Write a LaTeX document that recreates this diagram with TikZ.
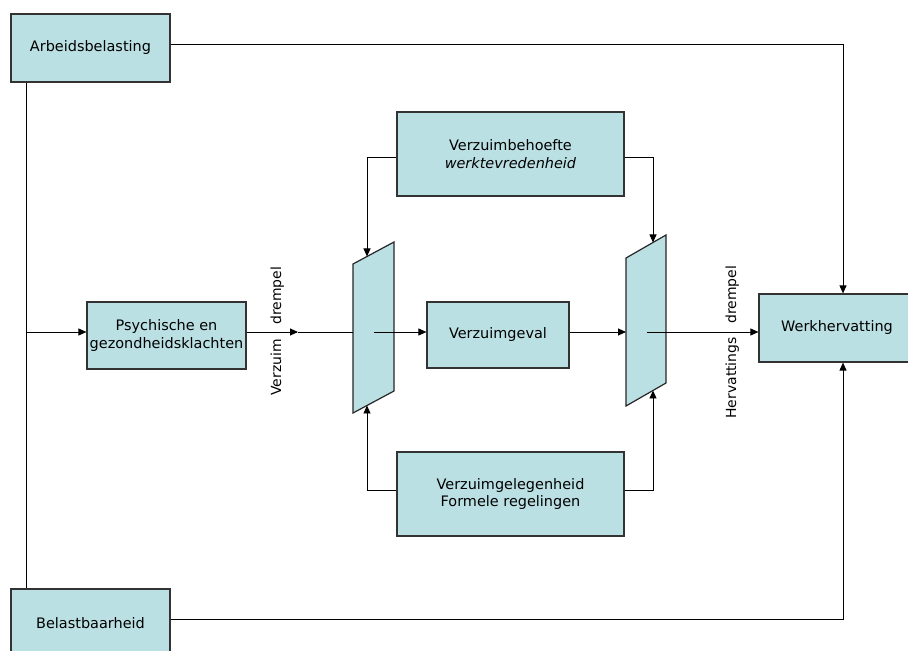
\documentclass[tikz,border=0pt]{standalone}
\usepackage{fontspec}
\setmainfont{DejaVu Sans}
\usetikzlibrary{arrows.meta,calc}
\definecolor{boxblue}{HTML}{BBE0E3}
\tikzset{
  blok/.style={draw=black!80, line width=1.2bp, fill=boxblue, inner sep=0pt,
    align=center, font=\fontsize{14.5}{17.5}\selectfont},
  pijl/.style={-{Triangle[length=8bp,width=7bp]}, line width=0.9bp},
  lijn/.style={line width=0.9bp},
  poort/.style={draw=black!85, line width=1.2bp, fill=boxblue},
  drempel/.style={rotate=90, inner sep=0pt, font=\fontsize{14}{17}\selectfont}
}

\begin{document}
\begin{tikzpicture}[x=1bp, y=-1bp]
		%%%%% START %%%%%
		\useasboundingbox (0,0) rectangle (908,651);
		\clip (0,0) rectangle (908,651);
		
		\node[blok, minimum width=159bp, minimum height=68bp] (arb) at (90.5, 48) {Arbeidsbelasting};
		\node[blok, minimum width=159bp, minimum height=68bp] (bel) at (90.5, 623) {Belastbaarheid};
		\node[blok, minimum width=159bp, minimum height=67bp] (psy) at (166.5, 335.5) {Psychische en\\gezondheidsklachten};
		\node[blok, minimum width=142bp, minimum height=66bp] (gev) at (498, 335) {Verzuimgeval};
		\node[blok, minimum width=156bp, minimum height=68bp] (werk) at (837, 328) {Werkhervatting};
		\node[blok, minimum width=227bp, minimum height=84bp] (beh) at (510.5, 154) {Verzuimbehoefte\\\textit{werktevredenheid}};
		\node[blok, minimum width=227bp, minimum height=84bp] (gel) at (510.5, 494) {Verzuimgelegenheid\\Formele regelingen};
		
		% drempels
		\coordinate (lp-nw) at (353, 264);
		\coordinate (lp-ne) at (394, 242);
		\coordinate (lp-se) at (394, 391);
		\coordinate (lp-sw) at (353, 413);
		\draw[poort] (lp-nw) -- (lp-ne) -- (lp-se) -- (lp-sw) -- cycle;
		
		\coordinate (rp-nw) at (626, 258);
		\coordinate (rp-ne) at (666, 235);
		\coordinate (rp-se) at (666, 383);
		\coordinate (rp-sw) at (626, 406);
		\draw[poort] (rp-nw) -- (rp-ne) -- (rp-se) -- (rp-sw) -- cycle;
		
		\coordinate (lp-top) at ($(lp-nw)!14/41!(lp-ne)$);
		\coordinate (lp-bot) at ($(lp-sw)!14/41!(lp-se)$);
		\coordinate (rp-top) at ($(rp-nw)!27/40!(rp-ne)$);
		\coordinate (rp-bot) at ($(rp-sw)!27/40!(rp-se)$);
		
		\coordinate (as) at (0, 332);
		\coordinate (bus) at (26, 332);
		\coordinate (vd) at (298, 332);
		\coordinate (lp-in) at (374, 332);
		\coordinate (rp-in) at (647, 332);
		\coordinate (wk) at (843, 0);
		
		% hoofdlijn
		\draw[lijn] (arb.south -| bus) -- (bel.north -| bus);
		\draw[pijl] (bus) -- (psy.west |- as);
		\draw[pijl] (psy.east |- as) -- (vd);
		\draw[lijn] (vd) -- (lp-nw |- as);
		\draw[pijl] (lp-in) -- (gev.west |- as);
		\draw[pijl] (gev.east |- as) -- (rp-nw |- as);
		\draw[pijl] (rp-in) -- (werk.west |- as);
		
		% boven en onder
		\draw[pijl] ([yshift=-3bp]beh.west) -| (lp-top);
		\draw[pijl] ([yshift=-3bp]beh.east) -| (rp-top);
		\draw[pijl] ([yshift=4bp]gel.west) -| (lp-bot);
		\draw[pijl] ([yshift=4bp]gel.east) -| (rp-bot);
		\draw[pijl] ([yshift=4bp]arb.east) -| (werk.north -| wk);
		\draw[pijl] ([yshift=4bp]bel.east) -| (werk.south -| wk);
		
		\node[drempel, anchor=base west] (vd-b) at (281, 325) {drempel};
		\node[drempel, anchor=base east] (vd-a) at (281, 339) {Verzuim};
		\node[drempel, anchor=base west] (hd-b) at (736, 324) {drempel};
		\node[drempel, anchor=base east] (hd-a) at (736, 337) {Hervattings};
		
		%%%%% END %%%%%
\end{tikzpicture}
\end{document}
